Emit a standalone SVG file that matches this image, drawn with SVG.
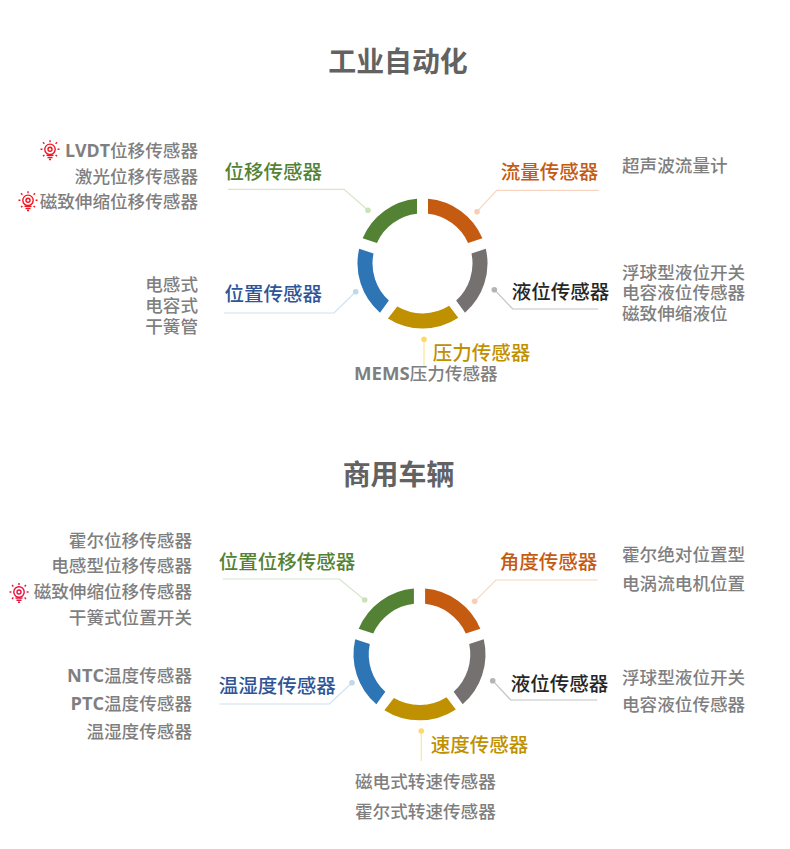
<svg xmlns="http://www.w3.org/2000/svg" width="790" height="849" viewBox="0 0 790 849">
<style>
text{font-family:"Noto Sans CJK SC","Noto Sans",sans-serif}
.t{font-size:27.9px;font-weight:700;fill:#626262}
.l{font-size:19.5px;font-weight:500}
.i{font-size:17.6px;font-weight:500;fill:#7f7f7f}
.e{text-anchor:end}
.la{font-family:"Open Sans","Noto Sans",sans-serif;font-weight:700;font-size:18.6px}
.lv{font-size:17.8px}
.ln{font-size:18.2px}
.c{fill:none;stroke-width:1.2}
.g{fill:#548235}.o{fill:#c55a11}.y{fill:#767171}.d{fill:#bf9000}.b{fill:#2e75b6}
.lb{fill:#2f5597}.lk{fill:#262626}
.cg{stroke:#d5e6ca}.co{stroke:#f9d5bf}.cy{stroke:#c4c4c4}.cd{stroke:#ffe699}.cb{stroke:#cfe2f3}
.dg{fill:#c9e2b8}.do{fill:#f9cdb1}.dy{fill:#b5b3b3}.dd{fill:#ffd966}.db{fill:#bfd8ee}
</style>
<defs>
<path id="s1" d="M5.5-64.77A65 65 0 0 1 59.9-25.24L45.57-20.59A50 50 0 0 0 5.5-49.7Z"/>
<path id="s2" d="M63.3-14.79A65 65 0 0 1 42.52 49.16L33.66 36.97A50 50 0 0 0 48.96-10.12Z"/>
<path id="s3" d="M35.8 54.3A65 65 0 0 1 -34.6 55L-25.2 43.1A50 50 0 0 0 26.6 42.3Z"/>
<path id="s4" d="M-42.52 49.16A65 65 0 0 1 -63.3-14.79L-48.96-10.12A50 50 0 0 0 -33.66 36.97Z"/>
<path id="s5" d="M-59.9-25.24A65 65 0 0 1 -5.5-64.77L-5.5-49.7A50 50 0 0 0 -45.57-20.59Z"/>
<g id="bulb" fill="none" stroke-width="1.4">
<circle r="5.2" cy="-1"/><circle r="2" cy="-1"/>
<path d="M-3.5 5H3.5M-2.5 7.2H2.5M-1 9.2H1"/>
<path d="M0-10V-8M-7-8L-5.6-6.6M7-8L5.6-6.6M-9.5-1H-7.6M9.5-1H7.6M-7 6L-5.6 4.6M7 6L5.6 4.6"/>
</g>
</defs>

<g id="connectors">
<path class="c cg" d="M228 189.3H344L368 210.3"/>
<path class="c co" d="M477 211.7L496.7 190.3H598.7"/>
<path class="c cy" d="M494.3 289.7L512.7 309H598.3"/>
<path class="c cd" d="M424 339.3V366.7"/>
<path class="c cb" d="M224 313H334L355.7 291.7"/>
<path class="c cg" d="M222.7 579H339.3L364.7 600"/>
<path class="c co" d="M474.7 601.3L496 580H597.7"/>
<path class="c cy" d="M492.7 680.7L510.7 700H597.3"/>
<path class="c cd" d="M421.3 731V761"/>
<path class="c cb" d="M219.3 704H329.3L352 682.7"/>
</g>

<text id="title-1" class="t" x="398" y="72" text-anchor="middle">工业自动化</text>
<text id="title-2" class="t" x="398.5" y="485" text-anchor="middle">商用车辆</text>

<g id="a-flow"><use href="#s1" class="o" transform="translate(422.5 263.5)"/><circle class="do" cx="477" cy="211.7" r="2.8"/><text class="l o" x="500.7" y="179.3">流量传感器</text><text class="i" x="622" y="171.8">超声波流量计</text></g>
<g id="a-level"><use href="#s2" class="y" transform="translate(422.5 263.5)"/><circle class="dy" cx="494.3" cy="289.7" r="2.8"/><text class="l lk" x="511.7" y="299.3">液位传感器</text><text class="i" x="622" y="278.8">浮球型液位开关</text><text class="i" x="622" y="298.8">电容液位传感器</text><text class="i" x="622" y="319.8">磁致伸缩液位</text></g>
<g id="a-press"><use href="#s3" class="d" transform="translate(422.5 263.5)"/><circle class="dd" cx="424" cy="339.3" r="2.8"/><text class="l d" x="432.7" y="360.3">压力传感器</text><text class="i" x="354" y="380.2"><tspan class="la">MEMS</tspan>压力传感器</text></g>
<g id="a-pos"><use href="#s4" class="b" transform="translate(422.5 263.5)"/><circle class="db" cx="355.7" cy="291.7" r="2.8"/><text class="l lb" x="224.5" y="301.3">位置传感器</text><text class="i e" x="198" y="291.2">电感式</text><text class="i e" x="198" y="312.2">电容式</text><text class="i e" x="198" y="333.2">干簧管</text></g>
<g id="a-disp"><use href="#s5" class="g" transform="translate(422.5 263.5)"/><circle class="dg" cx="368" cy="210.3" r="2.8"/><text class="l g" x="224.5" y="179.3">位移传感器</text><text class="i e" x="198" y="157.2"><tspan class="la lv">LVDT</tspan>位移传感器</text><text class="i e" x="198" y="183.2">激光位移传感器</text><text class="i e" x="198" y="208.2">磁致伸缩位移传感器</text><use href="#bulb" stroke="#f5141e" transform="translate(50 150.3)"/><use href="#bulb" stroke="#f5141e" transform="translate(28 201.3)"/></g>

<g id="b-angle"><use href="#s1" class="o" transform="translate(419.5 654.3) scale(1.0154)"/><circle class="do" cx="474.7" cy="601.3" r="2.8"/><text class="l o" x="499.7" y="569">角度传感器</text><text class="i" x="622" y="561.2">霍尔绝对位置型</text><text class="i" x="622" y="590.2">电涡流电机位置</text></g>
<g id="b-level"><use href="#s2" class="y" transform="translate(419.5 654.3) scale(1.0154)"/><circle class="dy" cx="492.7" cy="680.7" r="2.8"/><text class="l lk" x="510.7" y="691">液位传感器</text><text class="i" x="622" y="684.2">浮球型液位开关</text><text class="i" x="622" y="711.2">电容液位传感器</text></g>
<g id="b-speed"><use href="#s3" class="d" transform="translate(419.5 654.3) scale(1.0154)"/><circle class="dd" cx="421.3" cy="731" r="2.8"/><text class="l d" x="430.7" y="752">速度传感器</text><text class="i" x="355" y="788.2">磁电式转速传感器</text><text class="i" x="355" y="818.2">霍尔式转速传感器</text></g>
<g id="b-temp"><use href="#s4" class="b" transform="translate(419.5 654.3) scale(1.0154)"/><circle class="db" cx="352" cy="682.7" r="2.8"/><text class="l lb" x="218.7" y="693">温湿度传感器</text><text class="i e" x="192" y="682.2"><tspan class="la ln">NTC</tspan>温度传感器</text><text class="i e" x="192" y="710.2"><tspan class="la ln">PTC</tspan>温度传感器</text><text class="i e" x="192" y="738.2">温湿度传感器</text></g>
<g id="b-disp"><use href="#s5" class="g" transform="translate(419.5 654.3) scale(1.0154)"/><circle class="dg" cx="364.7" cy="600" r="2.8"/><text class="l g" x="218.7" y="569">位置位移传感器</text><text class="i e" x="192" y="547.2">霍尔位移传感器</text><text class="i e" x="192" y="572.2">电感型位移传感器</text><text class="i e" x="192" y="598.2">磁致伸缩位移传感器</text><text class="i e" x="192" y="624.2">干簧式位置开关</text><use href="#bulb" stroke="#e5103c" transform="translate(19 593)"/></g>
</svg>
